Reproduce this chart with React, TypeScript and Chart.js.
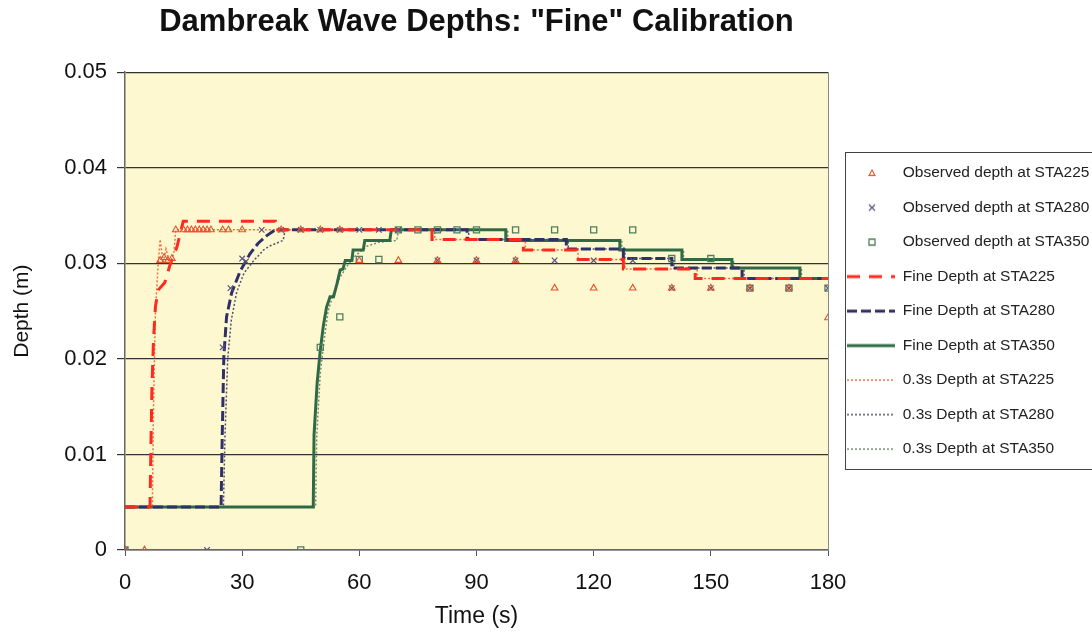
import React, { useEffect, useRef } from "react";
import { Chart, registerables } from "chart.js";

Chart.register(...registerables);

// ---- Observed depths ----
const obs225T = [0, 5, 9, 10, 11, 12, 13, 15, 16, 17, 18, 19, 20, 21, 22, 25, 26.5, 30, 40, 45, 50, 55, 60, 70, 80, 90, 100, 110, 120, 130, 140, 150, 160, 170, 180];
const obs225D = [0, 0, 0.0303, 0.0306, 0.0303, 0.0305, 0.0335, 0.0335, 0.0335, 0.0335, 0.0335, 0.0335, 0.0335, 0.0335, 0.0335, 0.0335, 0.0335, 0.0335, 0.0335, 0.0335, 0.0335, 0.0335, 0.0303, 0.0303, 0.0303, 0.0303, 0.0303, 0.0274, 0.0274, 0.0274, 0.0274, 0.0274, 0.0274, 0.0274, 0.0243];

const obs280T = [0, 21, 25, 27, 30, 31, 35, 40, 45, 50, 55, 60, 65, 70, 80, 90, 100, 110, 120, 130, 140, 150, 160, 170, 180];
const obs280D = [0, 0, 0.0212, 0.0274, 0.0305, 0.0302, 0.0335, 0.0335, 0.0335, 0.0335, 0.0335, 0.0335, 0.0335, 0.0335, 0.0303, 0.0303, 0.0303, 0.0303, 0.0303, 0.0303, 0.0274, 0.0274, 0.0274, 0.0274, 0.0274];

const obs350T = [0, 45, 50, 55, 60, 65, 70, 75, 80, 85, 90, 100, 110, 120, 130, 140, 150, 160, 170, 180];
const obs350D = [0, 0, 0.0212, 0.0244, 0.0304, 0.0304, 0.0335, 0.0335, 0.0335, 0.0335, 0.0335, 0.0335, 0.0335, 0.0335, 0.0335, 0.0305, 0.0305, 0.0274, 0.0274, 0.0274];

// ---- "Fine" model depths ----
const fine225T = [0, 6.4, 6.6, 6.9, 7.3, 7.8, 8.5, 10.2, 11.5, 13.3, 14.9, 38.5, 38.5, 78.6, 78.6, 102, 102, 115.6, 115.6, 127.6, 127.6, 146, 146, 180];
const fine225D = [0.0045, 0.0045, 0.010, 0.017, 0.022, 0.0255, 0.0272, 0.028, 0.0298, 0.0317, 0.0344, 0.0344, 0.0335, 0.0335, 0.0325, 0.0325, 0.0314, 0.0314, 0.0304, 0.0304, 0.0294, 0.0294, 0.0284, 0.0284];

const fine280T = [0, 24.6, 24.9, 25.3, 26, 27.3, 29.4, 32, 34.1, 36.3, 38.5, 87.6, 87.6, 113, 113, 127.6, 127.6, 140, 140, 158, 158, 180];
const fine280D = [0.0045, 0.0045, 0.012, 0.0202, 0.0244, 0.0269, 0.0291, 0.031, 0.0321, 0.0329, 0.0335, 0.0335, 0.0325, 0.0325, 0.0315, 0.0315, 0.0305, 0.0305, 0.0295, 0.0295, 0.0284, 0.0284];

const fine350T = [0, 48.2, 48.4, 49.2, 50.0, 50.8, 51.6, 52.5, 53.4, 54.3, 55.1, 55.8, 56.4, 58.1, 58.4, 61.0, 61.4, 67.8, 68.2, 97.5, 97.5, 126.7, 126.7, 142.6, 142.6, 155.4, 155.4, 172.8, 172.8, 180];
const fine350D = [0.0045, 0.0045, 0.012, 0.0175, 0.0209, 0.0235, 0.0254, 0.0265, 0.0265, 0.0279, 0.0293, 0.0294, 0.0303, 0.0303, 0.0314, 0.0314, 0.0324, 0.0324, 0.0335, 0.0335, 0.0324, 0.0324, 0.0314, 0.0314, 0.0304, 0.0304, 0.0295, 0.0295, 0.0284, 0.0284];

// ---- "0.3s" model depths ----
const c225T = [0, 7.0, 7.3, 7.8, 8.5, 9.0, 9.8, 10.5, 11.5, 12.5, 13, 79.3, 79.3, 102.5, 102.5, 116, 116, 128, 128, 146.5, 146.5, 180];
const c225D = [0.0045, 0.0045, 0.015, 0.025, 0.030, 0.0325, 0.030, 0.0315, 0.030, 0.031, 0.0335, 0.0335, 0.0325, 0.0325, 0.0314, 0.0314, 0.0304, 0.0304, 0.0294, 0.0294, 0.0284, 0.0284];

const c280T = [0, 25.2, 25.6, 26.3, 27.2, 28.6, 30.5, 33, 35.5, 37, 40.5, 41, 88, 88, 113.5, 113.5, 128, 128, 140.5, 140.5, 158.5, 158.5, 180];
const c280D = [0.0045, 0.0045, 0.012, 0.020, 0.024, 0.027, 0.029, 0.0303, 0.0314, 0.0318, 0.0324, 0.0335, 0.0335, 0.0325, 0.0325, 0.0315, 0.0315, 0.0305, 0.0305, 0.0295, 0.0295, 0.0284, 0.0284];

const c350T = [0, 48.8, 49.1, 50, 51, 52, 53.5, 55, 57, 59, 62, 65, 69.6, 70, 98, 98, 127.2, 127.2, 143, 143, 155.8, 155.8, 173.2, 173.2, 180];
const c350D = [0.0045, 0.0045, 0.012, 0.0185, 0.022, 0.025, 0.027, 0.0285, 0.0298, 0.0308, 0.0318, 0.0322, 0.0324, 0.0335, 0.0335, 0.0324, 0.0324, 0.0314, 0.0314, 0.0304, 0.0304, 0.0295, 0.0295, 0.0284, 0.0284];

const xTicks = [0, 30, 60, 90, 120, 150, 180];
const yTicks = [0, 0.01, 0.02, 0.03, 0.04, 0.05];

const seriesLabels = [
  "Observed depth at STA225",
  "Observed depth at STA280",
  "Observed depth at STA350",
  "Fine Depth at STA225",
  "Fine Depth at STA280",
  "Fine Depth at STA350",
  "0.3s Depth at STA225",
  "0.3s Depth at STA280",
  "0.3s Depth at STA350",
];

const pts = (t: number[], d: number[]) => t.map((x, i) => ({ x, y: d[i] }));

const FONT = "'Liberation Sans', Arial, sans-serif";
const SAMPLE_W = 48;

const bgPlugin = {
  id: "plotBg",
  beforeDraw(chart: any) {
    const { ctx, chartArea } = chart;
    ctx.save();
    ctx.fillStyle = "#fdf8cf";
    ctx.fillRect(chartArea.left, chartArea.top, chartArea.right - chartArea.left, chartArea.bottom - chartArea.top);
    ctx.restore();
  },
  afterDatasetsDraw(chart: any) {
    const { ctx, chartArea } = chart;
    ctx.save();
    ctx.strokeStyle = "#888";
    ctx.lineWidth = 1;
    ctx.beginPath();
    ctx.moveTo(Math.round(chartArea.right) + 0.5, chartArea.top);
    ctx.lineTo(Math.round(chartArea.right) + 0.5, chartArea.bottom);
    ctx.stroke();
    ctx.restore();
  },
};

const legendBorder = {
  id: "legendBorder",
  afterDraw(chart: any) {
    const lg = chart.legend;
    if (!lg || !lg.legendHitBoxes || !lg.legendHitBoxes.length) return;
    const hb = lg.legendHitBoxes;
    const first = hb[0];
    const last = hb[hb.length - 1];
    const ctx = chart.ctx;
    ctx.save();
    ctx.strokeStyle = "#444";
    ctx.lineWidth = 1;
    const left = Math.round(first.left) - 1.5;
    const top = Math.round(first.top) - 12.5;
    const bottom = Math.round(last.top + last.height) + 12.5;
    ctx.strokeRect(left, top, chart.width + 10 - left, bottom - top);
    ctx.restore();
  },
};

function legendImage(kind: string, color: string, width: number, dash: number[]) {
  const c = document.createElement("canvas");
  c.width = SAMPLE_W;
  c.height = 12;
  const g = c.getContext("2d") as CanvasRenderingContext2D;
  g.strokeStyle = color;
  g.lineWidth = width;
  const cx = SAMPLE_W / 2 + 1;
  const cy = 6;
  g.beginPath();
  if (kind === "line") {
    g.setLineDash(dash);
    g.moveTo(0, cy);
    g.lineTo(SAMPLE_W, cy);
  } else if (kind === "triangle") {
    g.moveTo(cx, cy - 3.2);
    g.lineTo(cx + 3, cy + 2.4);
    g.lineTo(cx - 3, cy + 2.4);
    g.closePath();
  } else if (kind === "crossRot") {
    g.moveTo(cx - 3, cy - 3);
    g.lineTo(cx + 3, cy + 3);
    g.moveTo(cx + 3, cy - 3);
    g.lineTo(cx - 3, cy + 3);
  } else {
    g.rect(cx - 3, cy - 3, 6, 6);
  }
  g.stroke();
  return c;
}

export default function App() {
  const ref = useRef<HTMLCanvasElement | null>(null);

  useEffect(() => {
    if (!ref.current) return;
    const lineDs = (i: number, t: number[], d: number[], color: string, width: number, dash: number[]) => ({
      label: seriesLabels[i],
      data: pts(t, d),
      showLine: true,
      borderColor: color,
      backgroundColor: color,
      borderWidth: width,
      borderDash: dash,
      pointRadius: 0,
      pointHoverRadius: 0,
      tension: 0,
      fill: false,
    });
    const obsDs = (i: number, t: number[], d: number[], color: string, style: string, r: number, w: number) => ({
      label: seriesLabels[i],
      data: pts(t, d),
      showLine: false,
      borderColor: color,
      backgroundColor: "rgba(0,0,0,0)",
      pointStyle: style,
      pointRadius: r,
      pointBorderWidth: w,
      pointBorderColor: color,
      pointBackgroundColor: "rgba(0,0,0,0)",
    });

    const datasets: any[] = [
      obsDs(0, obs225T, obs225D, "#e8502e", "triangle", 3.8, 1.1),
      obsDs(1, obs280T, obs280D, "#55557e", "crossRot", 3.9, 1.2),
      obsDs(2, obs350T, obs350D, "#4f7f5f", "rect", 4.3, 1.3),
      lineDs(3, fine225T, fine225D, "#ff2a1f", 3, [13, 9]),
      lineDs(4, fine280T, fine280D, "#303068", 3, [10, 4]),
      lineDs(5, fine350T, fine350D, "#2f6a45", 3, []),
      lineDs(6, c225T, c225D, "#f07040", 1.5, [2, 2]),
      lineDs(7, c280T, c280D, "#50506e", 1.5, [2, 2]),
      lineDs(8, c350T, c350D, "#7a8a7a", 1.5, [2, 2]),
    ];
    const legendKinds = ["triangle", "crossRot", "rect", "line", "line", "line", "line", "line", "line"];
    const legendImgs = datasets.map((ds, i) =>
      legendKinds[i] === "line"
        ? legendImage("line", ds.borderColor, ds.borderWidth, ds.borderDash)
        : legendImage(legendKinds[i], ds.borderColor, ds.pointBorderWidth, [])
    );

    const chart = new Chart(ref.current, {
      type: "scatter",
      data: { datasets },
      plugins: [bgPlugin, legendBorder],
      options: {
        animation: false,
        responsive: true,
        maintainAspectRatio: false,
        layout: { padding: { left: 0, right: 0, top: 0, bottom: 0 } },
        plugins: {
          tooltip: { enabled: false },
          title: {
            display: true,
            text: 'Dambreak Wave Depths: "Fine" Calibration',
            fullSize: false,
            color: "#111",
            font: { family: FONT, size: 31, weight: "bold" },
            padding: { top: 4, bottom: 31 },
          },
          legend: {
            position: "right",
            align: "center",
            fullSize: false,
            maxWidth: 264,
            labels: {
              usePointStyle: true,
              pointStyleWidth: SAMPLE_W,
              boxHeight: 5,
              padding: 19,
              color: "#222",
              font: { family: FONT, size: 15.5 },
              generateLabels: (ch: any) =>
                ch.data.datasets.map((ds: any, i: number) => ({
                  text: ds.label,
                  fillStyle: "rgba(0,0,0,0)",
                  strokeStyle: ds.borderColor,
                  lineWidth: 1,
                  pointStyle: legendImgs[i],
                  hidden: false,
                  datasetIndex: i,
                  fontColor: "#222",
                })),
            },
          },
        },
        scales: {
          x: {
            type: "linear",
            min: 0,
            max: 180,
            afterBuildTicks: (s: any) => {
              s.ticks = xTicks.map((v) => ({ value: v }));
            },
            afterFit: (s: any) => {
              s.height = 82;
            },
            ticks: { color: "#111", font: { family: FONT, size: 22 }, padding: 14, maxRotation: 0 },
            grid: { drawOnChartArea: false, drawTicks: true, tickLength: 6, color: "#555", lineWidth: 1 },
            border: { display: true, color: "#666", width: 1.5 },
            title: { display: true, text: "Time (s)", color: "#111", font: { family: FONT, size: 23 }, padding: { top: 0, bottom: 2 } },
          },
          y: {
            type: "linear",
            min: 0,
            max: 0.05,
            afterBuildTicks: (s: any) => {
              s.ticks = yTicks.map((v) => ({ value: v }));
            },
            afterFit: (s: any) => {
              s.width = 125;
            },
            ticks: {
              color: "#111",
              font: { family: FONT, size: 22 },
              padding: 10,
              callback: (v: any) => String(Math.round(Number(v) * 100) / 100),
            },
            grid: { color: "#333", lineWidth: 1.2, tickLength: 8, drawTicks: true },
            border: { display: true, color: "#666", width: 1.5 },
            title: { display: true, text: "Depth (m)", color: "#111", font: { family: FONT, size: 21 }, padding: { top: 10, bottom: 0 } },
          },
        },
      },
    });
    return () => chart.destroy();
  }, []);

  return (
    <div style={{ position: "fixed", left: 0, top: 0, width: 1092, height: 632, background: "#fff" }}>
      <canvas ref={ref} />
    </div>
  );
}
